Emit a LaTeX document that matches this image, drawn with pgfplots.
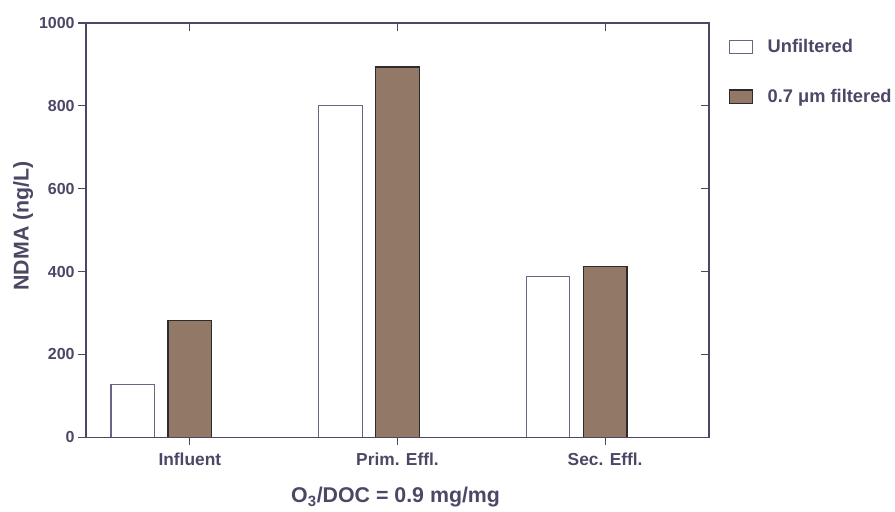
\documentclass[border=0pt]{standalone}
\usepackage{fontspec}
\setmainfont{Liberation Sans}
\usepackage{pgfplots}
\pgfplotsset{compat=1.18}
\usetikzlibrary{calc}
\definecolor{axc}{HTML}{4D4766}
\definecolor{barbrown}{HTML}{927866}
\definecolor{unfedge}{HTML}{6A6485}
\definecolor{filedge}{HTML}{2E2A2A}
\begin{document}
\begin{tikzpicture}
\begin{axis}[
  name=main,
  scale only axis,
  width=467pt, height=310.5pt,
  xmin=-0.5, xmax=2.5,
  ymin=0, ymax=1000,
  ytick={0,200,400,600,800,1000},
  xtick={0,1,2},
  xticklabels={Influent,Prim. Effl.,Sec. Effl.},
  xtick pos=bottom, ytick pos=left,
  tick align=outside,
  major tick length=6pt,
  axis line style={axc, line width=0.9pt},
  every tick/.style={axc, line width=0.9pt},
  /pgf/number format/assume math mode=true,
  /pgf/number format/1000 sep={},
  xticklabel style={font=\bfseries\fontsize{13}{15}\selectfont, text=axc, yshift=-2pt},
  yticklabel style={font=\bfseries\fontsize{12}{14}\selectfont, text=axc, xshift=1pt},
  ylabel={NDMA (ng/L)},
  ylabel style={font=\bfseries\fontsize{16}{18}\selectfont, text=axc},
  every axis y label/.append style={at={(axis description cs:-0.101,0.51)}, anchor=center, rotate=0},
  xlabel={O\textsubscript{3}/DOC = 0.9 mg/mg},
  xlabel style={font=\bfseries\fontsize{16}{18}\selectfont, text=axc},
  every axis x label/.append style={at={(axis description cs:0.497,-0.145)}, anchor=center},
  ybar, bar shift=0pt, bar width=0.21,
  legend style={at={(1.032,0.968)}, anchor=north west, draw=none, fill=none,
    font=\bfseries\fontsize{13.7}{16}\selectfont, text=axc,
    row sep=22pt, inner sep=0pt},
  legend cell align=left,
  legend image code/.code={\draw[#1, line width=0.9pt] (0pt,-5pt) rectangle (17pt,5pt);},
]
\addplot[draw=unfedge, fill=white, line width=0.9pt] coordinates {(-0.275,128) (0.725,800) (1.725,387)};
\addlegendentry{\hspace{9pt}Unfiltered}
\addplot[draw=filedge, fill=barbrown, line width=0.9pt] coordinates {(0,281) (1,894) (2,413)};
\addlegendentry{\hspace{9pt}0.7 μm filtered}
\end{axis}
\begin{axis}[
  scale only axis,
  width=467pt, height=310.5pt,
  xmin=-0.5, xmax=2.5,
  ymin=0, ymax=1000,
  ytick={0,200,400,600,800,1000},
  xtick={0,1,2},
  xticklabels={}, yticklabels={},
  xtick pos=top, ytick pos=right,
  tick align=inside,
  major tick length=6pt,
  axis line style={axc, line width=0.9pt},
  every tick/.style={axc, line width=0.9pt},
]
\end{axis}
\pgfresetboundingbox
\path ($(main.south west)+(-64.5pt,-55.5pt)$) rectangle ($(main.north east)+(139.5pt,17.25pt)$);
\end{tikzpicture}
\end{document}
